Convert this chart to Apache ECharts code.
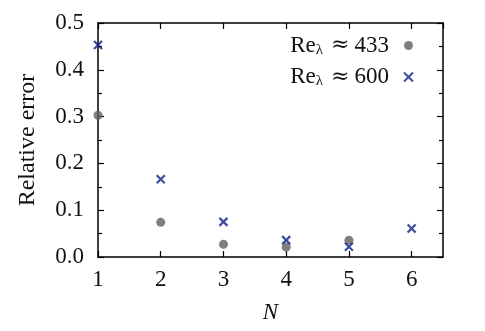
<!DOCTYPE html>
<html>
<head>
<meta charset="utf-8">
<script src="https://cdn.jsdelivr.net/npm/echarts@6/dist/echarts.min.js"></script>
<style>
    html, body { margin: 0; padding: 0; background: #fff; }
    #chart { width: 485px; height: 331px; }
</style>
</head>
<body>
<div id="chart"></div>
<script>
const nValues = [1, 2, 3, 4, 5, 6];
const err433 = [0.303, 0.074, 0.027, 0.021, 0.036];
const err600 = [0.453, 0.166, 0.075, 0.036, 0.022, 0.061];
const legendNames = ['Re433', 'Re600'];
const legendNums = { Re433: '433', Re600: '600' };

const font = 'Liberation Serif';
const crossPath = 'path://M0,0L10,10M10,0L0,10';

function toPoints(xs, ys) {
    return ys.map((y, i) => [xs[i], y]);
}

const chart = echarts.init(document.getElementById('chart'));

// shared axis bits
const xBase = {
    type: 'value',
    min: 1,
    max: 6.5,
    interval: 1,
    splitLine: { show: false },
    axisLine: { show: true, onZero: false, lineStyle: { color: '#000', width: 1.5 } },
    axisTick: { show: true, inside: true, length: 6, lineStyle: { color: '#000', width: 1.2 } },
};
const yBase = {
    type: 'value',
    min: 0,
    max: 0.5,
    interval: 0.1,
    splitLine: { show: false },
    axisLine: { show: true, onZero: false, lineStyle: { color: '#000', width: 1.5 } },
    axisTick: { show: true, inside: true, length: 6, lineStyle: { color: '#000', width: 1.2 } },
    minorTick: { show: true, splitNumber: 2, length: 4, lineStyle: { color: '#000', width: 1.2 } },
};

const txt = { fontFamily: font, fontSize: 23, color: '#111', lineHeight: 24 };

const option = {
    animation: false,
    grid: { left: 98, right: 42, top: 23, bottom: 74 },
    legend: {
        data: legendNames,
        orient: 'vertical',
        right: 66,
        top: 29,
        align: 'right',
        itemGap: 8,
        itemWidth: 9,
        itemHeight: 9,
        formatter: (name) => '{t|Re}{s|λ}{g|≈}{t|' + legendNums[name] + '}{p|}',
        textStyle: {
            rich: {
                t: txt,
                s: { fontFamily: font, fontSize: 15, color: '#111', lineHeight: 15, verticalAlign: 'bottom' },
                g: { fontFamily: 'DejaVu Serif', fontSize: 22, color: '#111', lineHeight: 24, padding: [0, 5, 0, 8] },
                p: { width: 10 },
            },
        },
    },
    xAxis: [
        Object.assign({}, xBase, {
            position: 'bottom',
            name: 'N',
            nameLocation: 'middle',
            nameGap: 44,
            nameTextStyle: { fontFamily: font, fontSize: 23, fontStyle: 'italic', color: '#111' },
            axisLabel: {
                margin: 11,
                fontFamily: font,
                fontSize: 23,
                color: '#111',
                showMaxLabel: false,
                formatter: (v) => (Number.isInteger(v) ? String(v) : ''),
            },
        }),
        Object.assign({}, xBase, { position: 'top', axisLabel: { show: false } }),
    ],
    yAxis: [
        Object.assign({}, yBase, {
            position: 'left',
            name: 'Relative error',
            nameLocation: 'middle',
            nameGap: 58,
            nameTextStyle: { fontFamily: font, fontSize: 24, color: '#111' },
            axisLabel: {
                margin: 14,
                fontFamily: font,
                fontSize: 23,
                color: '#111',
                formatter: (v) => v.toFixed(1),
            },
        }),
        Object.assign({}, yBase, { position: 'right', axisLabel: { show: false } }),
    ],
    series: [
        {
            name: 'Re433',
            type: 'scatter',
            symbol: 'circle',
            symbolSize: 9,
            itemStyle: { color: '#606060' },
            data: toPoints(nValues, err433),
        },
        {
            name: 'Re600',
            type: 'scatter',
            symbol: crossPath,
            symbolSize: 8,
            itemStyle: { color: 'rgba(0,0,0,0)', borderColor: '#0c1f86', borderWidth: 2.2 },
            data: toPoints(nValues, err600),
        },
    ],
};

chart.setOption(option);
</script>
</body>
</html>
